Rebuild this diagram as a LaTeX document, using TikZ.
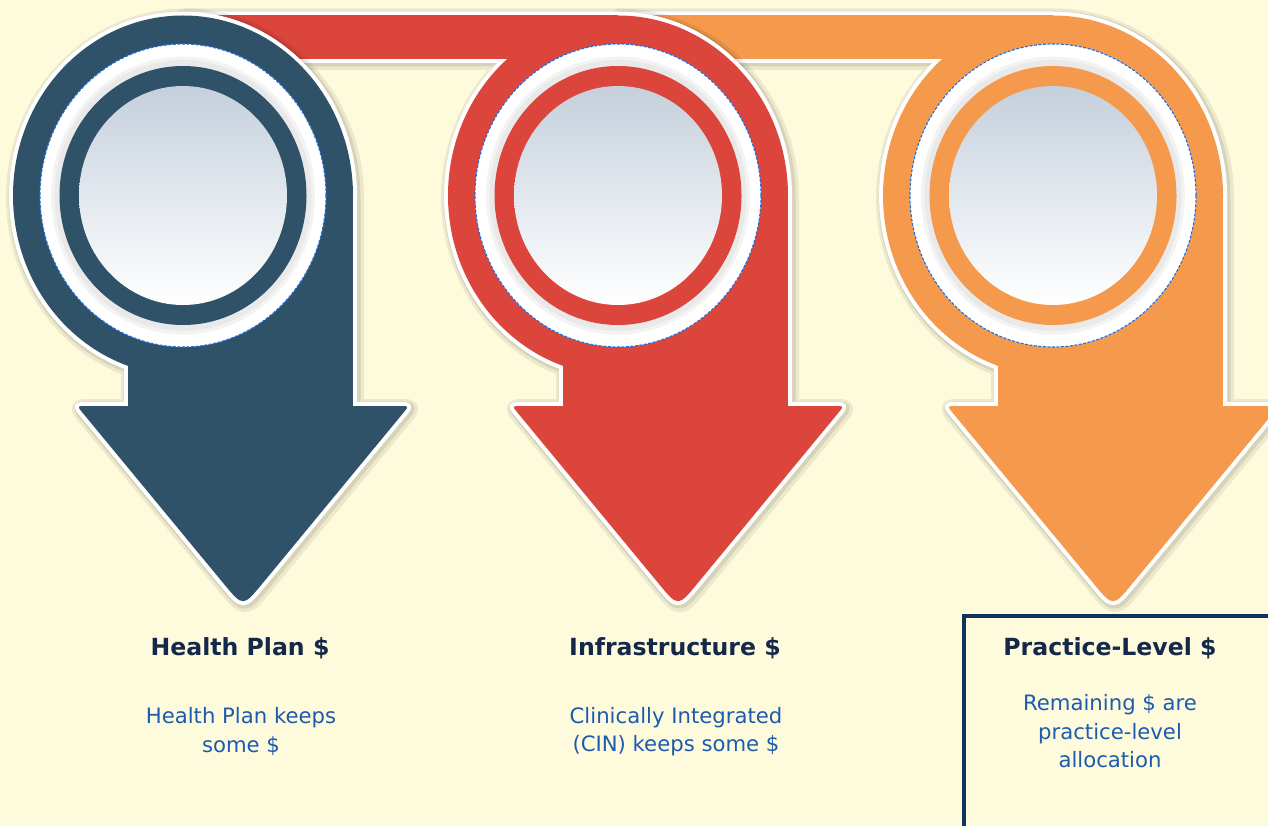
\documentclass[tikz,border=0pt]{standalone}
\usepackage{fontspec}
\setmainfont{DejaVu Sans}
\definecolor{bg}{HTML}{FEFADC}
\definecolor{cblue}{HTML}{305268}
\definecolor{cred}{HTML}{DB453C}
\definecolor{corange}{HTML}{F59A4C}
\definecolor{gtop}{HTML}{C5D0DC}
\definecolor{gmid}{HTML}{E5E9EE}
\definecolor{dashblue}{HTML}{1F6FE0}
\definecolor{titlecol}{HTML}{14284A}
\definecolor{bodycol}{HTML}{1C5BB0}
\definecolor{boxcol}{HTML}{13325B}
\definecolor{ringgrey}{HTML}{E9E9E9}
\definecolor{ringgreyb}{HTML}{F3F3F3}
\newcommand\mycpart[1]{(#1,195.5) ellipse [x radius=170pt, y radius=180pt]}
\newcommand\myspart[1]{({#1-55},195.5) rectangle ({#1+170},407)}
\newcommand\myhpart[1]{({#1-97},406) -- ({#1+217},406) .. controls ({#1+226},406) .. ({#1+220.3},412.9) -- ({#1+79.1},583.9) .. controls ({#1+60},607) .. ({#1+40.9},583.9) -- ({#1-100.3},412.9) .. controls ({#1-106},406) .. ({#1-97},406) -- cycle}
\newcommand\mybpart[1]{({#1-435},15.5) rectangle (#1,59)}
\newcommand\mydrawunit[3]{%
  \path[shadowA, shift={(2,2)}] \mycpart{#1} \myspart{#1} \myhpart{#1} #3;
  \path[shadowB, shift={(1.5,1.5)}] \mycpart{#1} \myspart{#1} \myhpart{#1} #3;
  \path[outline] \mycpart{#1} \myspart{#1} \myhpart{#1} #3;
  \fill[#2] \mycpart{#1};
  \fill[#2] \myspart{#1};
  \fill[#2] \myhpart{#1};
  \fill[#2] #3;
}
\newcommand\myrings[2]{%
  \fill[white] (#1,195.5) ellipse [x radius=143pt, y radius=151.5pt];
  \fill[ringgreyb] (#1,195.5) ellipse [x radius=132pt, y radius=139pt];
  \fill[ringgrey] (#1,195.5) ellipse [x radius=128.5pt, y radius=135.5pt];
  \fill[#2] (#1,195.5) ellipse [x radius=123.5pt, y radius=129.5pt];
  \shade[top color=gtop, middle color=gmid, bottom color=white] (#1,195.5) ellipse [x radius=104pt, y radius=109.5pt];
  \draw[dashblue, line width=1.1pt, dash pattern=on 3pt off 1.5pt] (#1,195.5) ellipse [x radius=143pt, y radius=151.5pt];
}
\begin{document}
\begin{tikzpicture}[x=1pt,y=-1pt,
  title/.style={font=\fontsize{23.6}{28}\selectfont\bfseries, text=titlecol, inner sep=0pt},
  body/.style={font=\fontsize{21.2}{28.5}\selectfont, text=bodycol, align=center, inner sep=0pt},
  outline/.style={draw=white, line width=8pt, line join=round},
  shadowA/.style={draw=black, opacity=0.07, line width=18pt, line join=round},
  shadowB/.style={draw=black, opacity=0.09, line width=12pt, line join=round}]
\useasboundingbox (0,0) rectangle (1268,826);
\clip (0,0) rectangle (1268,826);
\fill[bg] (0,0) rectangle (1268,826);
% orange unit
\mydrawunit{1053}{corange}{\mybpart{1053}}
\myrings{1053}{corange}
% red unit
\mydrawunit{618}{cred}{\mybpart{618}}
\myrings{618}{cred}
% blue unit
\mydrawunit{183}{cblue}{}
\myrings{183}{cblue}
% texts
\node[title] (t1) at (240,648) {Health Plan \$};
\node[title] (t2) at (675,648) {Infrastructure \$};
\node[title] (t3) at (1110,648) {Practice-Level \$};
\node[body] (b1) at (241,731.5) {Health Plan keeps\\some \$};
\node[body] (b2) at (676,731.5) {Clinically Integrated\\(CIN) keeps some \$};
\node[body] (b3) at (1110,731.5) {Remaining \$ are\\practice-level\\allocation};
\draw[boxcol, line width=4pt] (964,616) rectangle (1300,860);
\end{tikzpicture}
\end{document}
